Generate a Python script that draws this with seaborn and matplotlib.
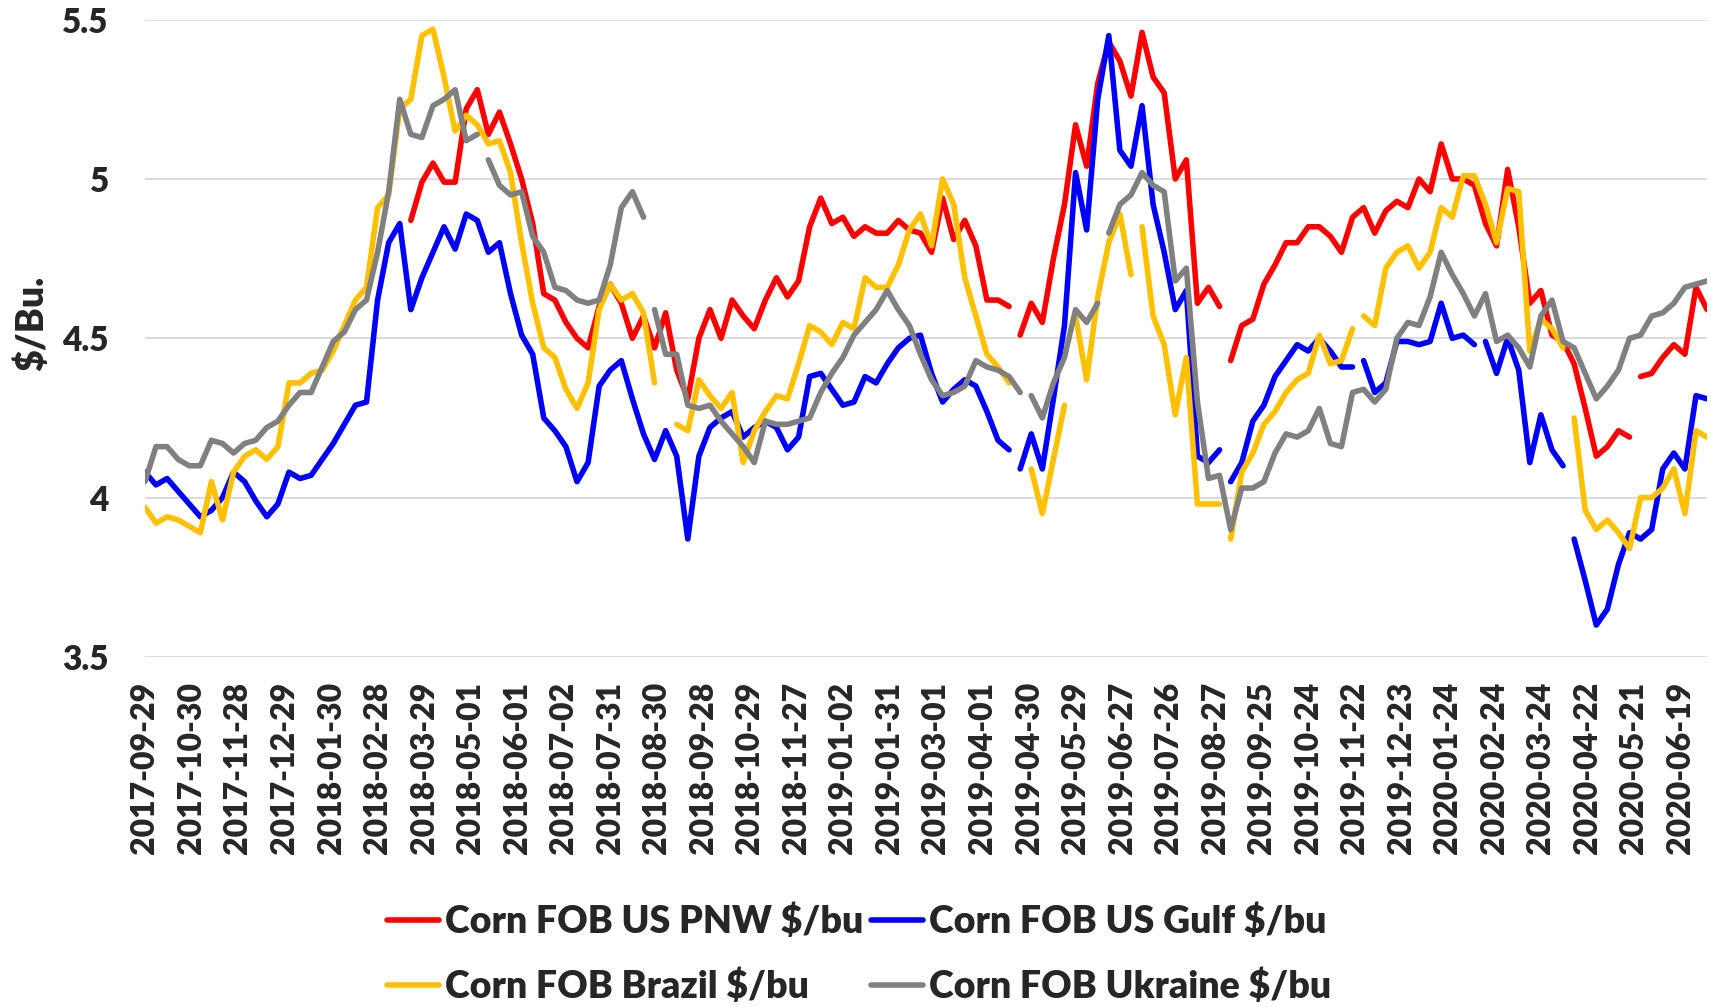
import numpy as np
import pandas as pd
import matplotlib
matplotlib.use("Agg")
import matplotlib.pyplot as plt
import seaborn as sns

nan = np.nan

# one reading every 5 trading days, starting 2017-09-29
step = 5
tick_every = 21
tick_labels = [
    "2017-09-29", "2017-10-30", "2017-11-28", "2017-12-29", "2018-01-30",
    "2018-02-28", "2018-03-29", "2018-05-01", "2018-06-01", "2018-07-02",
    "2018-07-31", "2018-08-30", "2018-09-28", "2018-10-29", "2018-11-27",
    "2019-01-02", "2019-01-31", "2019-03-01", "2019-04-01", "2019-04-30",
    "2019-05-29", "2019-06-27", "2019-07-26", "2019-08-27", "2019-09-25",
    "2019-10-24", "2019-11-22", "2019-12-23", "2020-01-24", "2020-02-24",
    "2020-03-24", "2020-04-22", "2020-05-21", "2020-06-19",
]

pnw = [
    nan, nan, nan, nan, nan, nan, nan, nan, nan, nan,
    nan, nan, nan, nan, nan, nan, nan, nan, nan, nan,
    nan, nan, nan, nan, 4.87, 4.99, 5.05, 4.99, 4.99, 5.22,
    5.28, 5.14, 5.21, 5.11, 5.00, 4.86, 4.64, 4.62, 4.55, 4.50,
    4.47, 4.60, 4.67, 4.61, 4.50, 4.57, 4.47, 4.58, 4.40, 4.31,
    4.50, 4.59, 4.50, 4.62, 4.57, 4.53, 4.62, 4.69, 4.63, 4.68,
    4.85, 4.94, 4.86, 4.88, 4.82, 4.85, 4.83, 4.83, 4.87, 4.84,
    4.83, 4.77, 4.94, 4.81, 4.87, 4.79, 4.62, 4.62, 4.60, 4.51,
    4.61, 4.55, 4.75, 4.92, 5.17, 5.04, 5.30, 5.43, 5.37, 5.26,
    5.46, 5.32, 5.27, 5.00, 5.06, 4.61, 4.66, 4.60, 4.43, 4.54,
    4.56, 4.67, 4.73, 4.80, 4.80, 4.85, 4.85, 4.82, 4.77, 4.88,
    4.91, 4.83, 4.90, 4.93, 4.91, 5.00, 4.96, 5.11, 5.00, 5.00,
    4.98, 4.86, 4.79, 5.03, 4.85, 4.61, 4.65, 4.51, 4.49, 4.42,
    4.28, 4.13, 4.16, 4.21, 4.19, 4.38, 4.39, 4.44, 4.48, 4.45,
    4.66, 4.59,
]
gulf = [
    4.08, 4.04, 4.06, 4.02, 3.98, 3.94, 3.96, 4.00, 4.08, 4.05,
    3.99, 3.94, 3.98, 4.08, 4.06, 4.07, 4.12, 4.17, 4.23, 4.29,
    4.30, 4.62, 4.80, 4.86, 4.59, 4.69, 4.77, 4.85, 4.78, 4.89,
    4.87, 4.77, 4.80, 4.64, 4.51, 4.45, 4.25, 4.21, 4.16, 4.05,
    4.11, 4.35, 4.40, 4.43, 4.31, 4.20, 4.12, 4.21, 4.13, 3.87,
    4.13, 4.22, 4.25, 4.27, 4.19, 4.22, 4.24, 4.22, 4.15, 4.19,
    4.38, 4.39, 4.34, 4.29, 4.30, 4.38, 4.36, 4.42, 4.47, 4.50,
    4.51, 4.39, 4.30, 4.34, 4.37, 4.35, 4.27, 4.18, 4.15, 4.09,
    4.20, 4.09, 4.31, 4.54, 5.02, 4.84, 5.25, 5.45, 5.09, 5.04,
    5.23, 4.92, 4.77, 4.59, 4.65, 4.13, 4.11, 4.15, 4.05, 4.11,
    4.24, 4.29, 4.38, 4.43, 4.48, 4.46, 4.50, 4.46, 4.41, 4.41,
    4.43, 4.33, 4.36, 4.49, 4.49, 4.48, 4.49, 4.61, 4.50, 4.51,
    4.48, 4.49, 4.39, 4.50, 4.40, 4.11, 4.26, 4.15, 4.10, 3.87,
    3.74, 3.60, 3.65, 3.79, 3.89, 3.87, 3.90, 4.09, 4.14, 4.09,
    4.32, 4.31,
]
brazil = [
    3.97, 3.92, 3.94, 3.93, 3.91, 3.89, 4.05, 3.93, 4.08, 4.13,
    4.15, 4.12, 4.16, 4.36, 4.36, 4.39, 4.40, 4.46, 4.54, 4.62,
    4.66, 4.91, 4.95, 5.22, 5.25, 5.45, 5.47, 5.32, 5.15, 5.20,
    5.17, 5.11, 5.12, 5.02, 4.80, 4.61, 4.47, 4.44, 4.34, 4.28,
    4.36, 4.59, 4.67, 4.62, 4.64, 4.58, 4.36, nan, 4.23, 4.21,
    4.37, 4.32, 4.28, 4.33, 4.11, 4.21, 4.27, 4.32, 4.31, 4.42,
    4.54, 4.52, 4.48, 4.55, 4.53, 4.69, 4.66, 4.66, 4.73, 4.84,
    4.89, 4.79, 5.00, 4.92, 4.69, 4.57, 4.45, 4.41, 4.36, 4.04,
    4.09, 3.95, 4.12, 4.29, 4.57, 4.37, 4.63, 4.80, 4.89, 4.70,
    4.85, 4.57, 4.48, 4.26, 4.44, 3.98, 3.98, 3.98, 3.87, 4.08,
    4.14, 4.23, 4.27, 4.33, 4.37, 4.39, 4.51, 4.42, 4.43, 4.53,
    4.57, 4.54, 4.72, 4.77, 4.79, 4.72, 4.77, 4.91, 4.88, 5.01,
    5.01, 4.92, 4.80, 4.97, 4.96, 4.46, 4.56, 4.53, 4.47, 4.25,
    3.96, 3.90, 3.93, 3.89, 3.84, 4.00, 4.00, 4.03, 4.09, 3.95,
    4.21, 4.19,
]
ukraine = [
    4.05, 4.16, 4.16, 4.12, 4.10, 4.10, 4.18, 4.17, 4.14, 4.17,
    4.18, 4.22, 4.24, 4.29, 4.33, 4.33, 4.41, 4.49, 4.52, 4.59,
    4.62, 4.77, 4.96, 5.25, 5.14, 5.13, 5.23, 5.25, 5.28, 5.12,
    5.14, 5.06, 4.98, 4.95, 4.96, 4.82, 4.77, 4.66, 4.65, 4.62,
    4.61, 4.62, 4.73, 4.91, 4.96, 4.88, 4.59, 4.45, 4.45, 4.29,
    4.28, 4.29, 4.24, 4.20, 4.16, 4.11, 4.24, 4.23, 4.23, 4.24,
    4.25, 4.33, 4.39, 4.44, 4.51, 4.55, 4.59, 4.65, 4.59, 4.54,
    4.45, 4.37, 4.32, 4.33, 4.35, 4.43, 4.41, 4.40, 4.38, 4.33,
    4.32, 4.25, 4.36, 4.44, 4.59, 4.55, 4.61, 4.83, 4.92, 4.95,
    5.02, 4.98, 4.96, 4.68, 4.72, 4.30, 4.06, 4.07, 3.90, 4.03,
    4.03, 4.05, 4.14, 4.20, 4.19, 4.21, 4.28, 4.17, 4.16, 4.33,
    4.34, 4.30, 4.34, 4.50, 4.55, 4.54, 4.63, 4.77, 4.70, 4.64,
    4.57, 4.64, 4.49, 4.51, 4.47, 4.41, 4.57, 4.62, 4.49, 4.47,
    4.39, 4.31, 4.35, 4.40, 4.50, 4.51, 4.57, 4.58, 4.61, 4.66,
    4.67, 4.68,
]

# trading days with no quote (breaks in the lines)
pnw_gaps = [392, 487, 672]
gulf_gaps = [392, 487, 549, 602, 642]
brazil_gaps = [392, 399, 417, 446, 487, 548, 642]
ukraine_gaps = [152, 228, 398, 432]

names = ["Corn FOB US PNW $/bu", "Corn FOB US Gulf $/bu",
         "Corn FOB Brazil $/bu", "Corn FOB Ukraine $/bu"]
colors = ["#FF0000", "#0000FF", "#FFC000", "#808080"]

frames = []
for name, vals, gaps in zip(names, [pnw, gulf, brazil, ukraine],
                            [pnw_gaps, gulf_gaps, brazil_gaps, ukraine_gaps]):
    d = pd.DataFrame({"day": np.arange(len(vals)) * step, "price": vals})
    d = pd.concat([d, pd.DataFrame({"day": gaps, "price": nan})])
    d = d.sort_values("day", kind="stable")
    d["seg"] = d["price"].isna().cumsum()
    d["series"] = name
    frames.append(d.dropna())
df = pd.concat(frames, ignore_index=True)

sns.set_style("white")
plt.rcParams["font.family"] = ["Lato", "DejaVu Sans"]
plt.rcParams["font.weight"] = "heavy"

fig = plt.figure(figsize=(17.11, 10.07), dpi=100)
ax = fig.add_axes([0.0847, 0.3476, 0.913, 0.6329])

sns.lineplot(data=df, x="day", y="price", hue="series", hue_order=names,
             units="seg", estimator=None, palette=dict(zip(names, colors)),
             linewidth=4.0, ax=ax)

ax.set_xlim(0, 705)
ax.set_ylim(3.5, 5.5)
ax.set_yticks([3.5, 4, 4.5, 5, 5.5])
ax.set_yticklabels(["3.5", "4", "4.5", "5", "5.5"])
ax.set_xticks(np.arange(len(tick_labels)) * tick_every)
ax.set_xticklabels(tick_labels, rotation=90)
ax.set_axisbelow(True)
ax.grid(axis="y", color="#d9d9d9", linewidth=1.3)
ax.grid(axis="x", visible=False)
for s in ax.spines.values():
    s.set_visible(False)
ax.tick_params(axis="x", length=0, labelsize=23, pad=18)
ax.tick_params(axis="y", length=0, labelsize=24, pad=26)
ax.set_xlabel("")
ax.set_ylabel("$/Bu.", fontsize=27, fontweight="heavy")
ax.yaxis.set_label_coords(-0.0615, 0.524)

handles, labels = ax.get_legend_handles_labels()
ax.get_legend().remove()
order = [0, 2, 1, 3]
leg = fig.legend([handles[i] for i in order], [labels[i] for i in order],
                 loc="upper center", bbox_to_anchor=(0.502, 0.103), ncol=2,
                 frameon=False, fontsize=27, handlelength=1.4,
                 handletextpad=0.15, columnspacing=0.2, labelspacing=0.8,
                 borderpad=0, borderaxespad=0)
for line in leg.get_lines():
    line.set_linewidth(4.0)

fig.savefig("out.png", dpi=100)
